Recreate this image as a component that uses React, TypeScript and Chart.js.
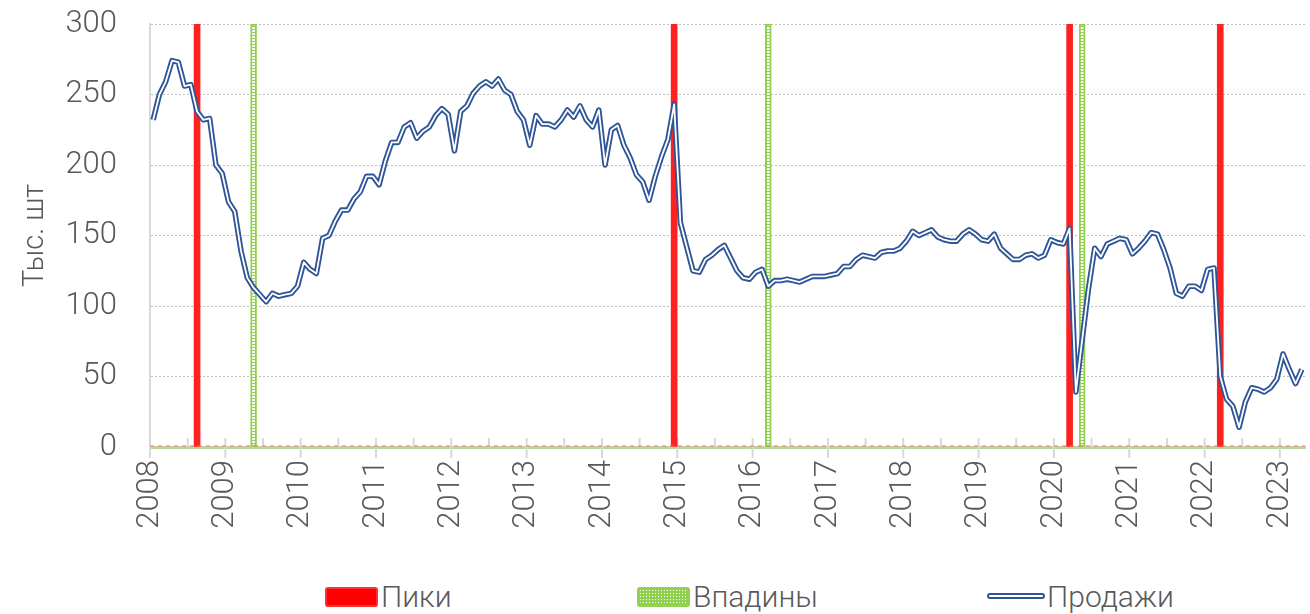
import React, { useEffect, useRef } from "react";
import { Chart, registerables } from "chart.js";

Chart.register(...registerables);

const START_YEAR = 2008;
const SALES: number[] = [
  232, 250, 259, 274, 273, 256, 257, 238, 232, 233,
  200, 194, 174, 167, 139, 120, 113, 108, 103, 109,
  107, 108, 109, 114, 131, 126, 123, 148, 150, 160,
  168, 168, 176, 181, 192, 192, 186, 203, 216, 216,
  227, 230, 219, 224, 227, 235, 240, 236, 210, 238,
  242, 251, 256, 259, 256, 261, 253, 250, 238, 232,
  214, 235, 229, 229, 227, 232, 239, 234, 242, 232,
  227, 239, 200, 225, 228, 214, 205, 193, 188, 175,
  192, 206, 218, 243, 159, 142, 125, 124, 133, 136,
  140, 143, 134, 125, 120, 119, 124, 126, 114, 118,
  118, 119, 118, 117, 119, 121, 121, 121, 122, 123,
  128, 128, 133, 136, 135, 134, 138, 139, 139, 141,
  146, 153, 150, 152, 154, 149, 147, 146, 146, 151,
  154, 151, 147, 146, 151, 141, 137, 133, 133, 136,
  137, 134, 136, 147, 145, 144, 155, 39, 76, 112,
  141, 135, 144, 146, 148, 147, 137, 141, 146, 152,
  151, 140, 127, 109, 107, 114, 114, 111, 126, 127,
  50, 34, 29, 14, 32, 42, 41, 39, 42, 48,
  66, 55, 45, 55,
];
const PEAKS: string[] = ["2008-08", "2014-12", "2020-03", "2022-03"];
const TROUGHS: string[] = ["2009-05", "2016-03", "2020-05"];
const BAR_HEIGHT = 300;
const Y_TICKS: number[] = [0, 50, 100, 150, 200, 250, 300];
const LABELS = { peaks: "Пики", troughs: "Впадины", sales: "Продажи", yTitle: "Тыс. шт" };

const monthIndex = (s: string) => {
  const [y, m] = s.split("-").map(Number);
  return (y - START_YEAR) * 12 + (m - 1);
};

const FONT = "Roboto, 'DejaVu Sans', sans-serif";
const TEXT = "#595959";
const BLUE = "#2f5597";
const RED = "#ff2020";
const GREEN = "#92d050";

const axisDecor = {
  id: "axisDecor",
  beforeDatasetsDraw(chart: any) {
    const { ctx, scales } = chart;
    const x = scales.x;
    const y0 = scales.y.getPixelForValue(0);
    ctx.save();
    ctx.strokeStyle = "#d9d9d9";
    ctx.lineWidth = 2;
    x.ticks.forEach((t: any) => {
      const px = x.getPixelForValue(t.value);
      const major = t.value % 12 === 0;
      ctx.beginPath();
      ctx.moveTo(px, y0 - 9);
      ctx.lineTo(px, major ? y0 + 11 : y0);
      ctx.stroke();
    });
    ctx.restore();
  },
  afterDatasetsDraw(chart: any) {
    const { ctx, scales, chartArea } = chart;
    const y0 = scales.y.getPixelForValue(0);
    ctx.save();
    ctx.strokeStyle = "#ff6a6a";
    ctx.lineWidth = 1;
    ctx.setLineDash([4, 4]);
    ctx.beginPath();
    ctx.moveTo(chartArea.left, y0 - 1);
    ctx.lineTo(chartArea.right, y0 - 1);
    ctx.stroke();
    ctx.restore();
  },
};

export default function App() {
  const ref = useRef<HTMLCanvasElement | null>(null);

  useEffect(() => {
    if (!ref.current) return;
    const pc = document.createElement("canvas");
    pc.width = 1;
    pc.height = 3;
    const pctx = pc.getContext("2d")!;
    pctx.fillStyle = GREEN;
    pctx.fillRect(0, 0, 1, 3);
    pctx.fillStyle = "#ffffff";
    pctx.fillRect(0, 0, 1, 2);
    const pattern = ref.current.getContext("2d")!.createPattern(pc, "repeat");

    const salesData = SALES.map((v, i) => ({ x: i + 0.5, y: v }));
    const peakData = PEAKS.map((s) => ({ x: monthIndex(s) + 0.5, y: BAR_HEIGHT }));
    const troughData = TROUGHS.map((s) => ({ x: monthIndex(s) + 0.5, y: BAR_HEIGHT }));

    const chart = new Chart(ref.current, {
      type: "line",
      data: {
        datasets: [
          {
            label: LABELS.sales + "_inner",
            data: salesData,
            borderColor: "#ffffff",
            borderWidth: 1.8,
            borderJoinStyle: "round",
            pointRadius: 0,
            tension: 0,
            order: 0,
          } as any,
          {
            label: LABELS.sales,
            data: salesData,
            borderColor: BLUE,
            borderWidth: 5.5,
            borderJoinStyle: "round",
            pointRadius: 0,
            tension: 0,
            order: 1,
          } as any,
          {
            type: "bar",
            label: LABELS.peaks,
            data: peakData,
            backgroundColor: RED,
            barThickness: 6,
            grouped: false,
            order: 2,
          } as any,
          {
            type: "bar",
            label: LABELS.troughs,
            data: troughData,
            backgroundColor: pattern,
            borderColor: GREEN,
            borderWidth: 2,
            borderSkipped: false,
            barThickness: 6,
            grouped: false,
            order: 3,
          } as any,
        ],
      },
      options: {
        responsive: false,
        animation: false,
        devicePixelRatio: 1,
        layout: { padding: { top: 24, right: 5, left: 0, bottom: 0 } },
        plugins: { legend: { display: false }, tooltip: { enabled: false } },
        scales: {
          x: {
            type: "linear",
            min: 0,
            max: SALES.length,
            offset: false,
            afterFit: (s: any) => {
              s.height = 128;
              s.paddingLeft = 0;
              s.paddingRight = 0;
            },
            grid: {
              drawOnChartArea: false,
              drawTicks: true,
              tickLength: 11,
              tickColor: "rgba(0,0,0,0)",
              offset: false,
            },
            border: { display: true, color: "#b5d89b", width: 3 },
            ticks: {
              stepSize: 6,
              includeBounds: false,
              autoSkip: false,
              minRotation: 90,
              maxRotation: 90,
              padding: 2,
              color: TEXT,
              font: { family: FONT, size: 31, weight: "300" },
              callback: (v: any) => (v % 12 === 0 ? String(START_YEAR + v / 12) : ""),
            },
          },
          y: {
            type: "linear",
            min: Y_TICKS[0],
            max: Y_TICKS[Y_TICKS.length - 1],
            afterFit: (s: any) => {
              s.width = 150;
              s.paddingTop = 0;
              s.paddingBottom = 0;
            },
            grid: {
              drawTicks: false,
              color: (c: any) => (c.tick && c.tick.value === 0 ? "rgba(0,0,0,0)" : "#bfbfbf"),
              lineWidth: 1,
            },
            border: { display: true, color: "#d9d9d9", width: 2, dash: [2, 2] },
            ticks: {
              stepSize: 50,
              padding: 33,
              color: TEXT,
              font: { family: FONT, size: 31, weight: "300" },
            },
            title: {
              display: true,
              text: LABELS.yTitle,
              color: TEXT,
              font: { family: FONT, size: 29, weight: "300" },
              padding: { top: 18, bottom: 0 },
            },
          },
        },
      },
      plugins: [axisDecor],
    });
    return () => chart.destroy();
  }, []);

  const legendText: React.CSSProperties = {
    position: "absolute",
    top: 580,
    fontFamily: FONT,
    fontWeight: 300,
    fontSize: 30,
    lineHeight: "34px",
    color: TEXT,
    whiteSpace: "nowrap",
  };

  return (
    <div style={{ position: "absolute", left: 0, top: 0, width: 1310, height: 614, background: "#fff" }}>
      <canvas ref={ref} width={1310} height={575} style={{ display: "block" }} />
      <div
        style={{
          position: "absolute", left: 325, top: 587, width: 49, height: 16,
          background: "#ff0000", border: "2px solid #ff3030", borderRadius: 3,
        }}
      />
      <div style={{ ...legendText, left: 381 }}>{LABELS.peaks}</div>
      <div
        style={{
          position: "absolute", left: 637, top: 587, width: 49, height: 16,
          backgroundColor: GREEN,
          backgroundImage: "radial-gradient(circle, #ffffff 0.7px, rgba(255,255,255,0) 0.9px)",
          backgroundSize: "3px 3px",
          border: "2px solid " + GREEN, borderRadius: 3,
        }}
      />
      <div style={{ ...legendText, left: 693 }}>{LABELS.troughs}</div>
      <div
        style={{
          position: "absolute", left: 987, top: 593, width: 54, height: 2,
          background: "#fff", border: "2px solid " + BLUE, borderRadius: 3,
        }}
      />
      <div style={{ ...legendText, left: 1047 }}>{LABELS.sales}</div>
    </div>
  );
}
